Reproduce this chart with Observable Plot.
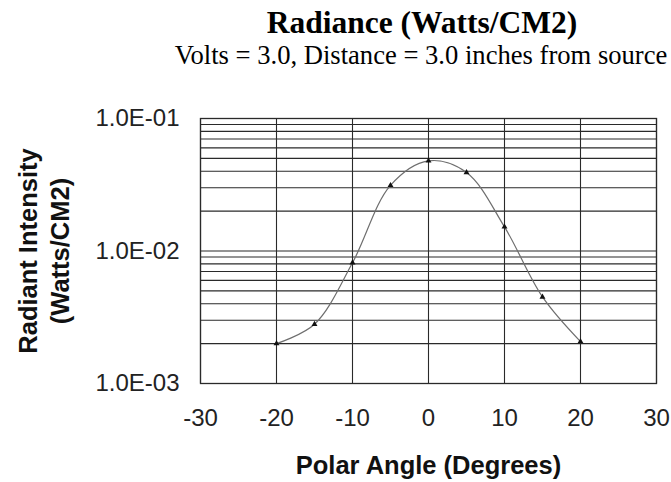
<!DOCTYPE html>
<html>
<head>
<meta charset="utf-8">
<script src="https://cdn.jsdelivr.net/npm/d3@7"></script>
<script src="https://cdn.jsdelivr.net/npm/@observablehq/plot@0.6"></script>
<style>
  body { margin: 0; background: white; }
  #wrap { width: 671px; background: white; }
  #header { position: relative; width: 671px; height: 70px; }
  #header .t { position: absolute; white-space: nowrap; transform: translateX(-50%); font-family: "Liberation Serif", "Times New Roman", serif; color: #000; }
  #title { left: 422px; top: 7px; font-size: 31.5px; line-height: 31px; font-weight: bold; }
  #subtitle { left: 421px; top: 42px; font-size: 26.6px; line-height: 26px; }
</style>
</head>
<body>
<div id="wrap">
  <div id="header">
    <div class="t" id="title">Radiance (Watts/CM2)</div>
    <div class="t" id="subtitle">Volts = 3.0, Distance = 3.0 inches from source</div>
  </div>
  <div id="chart"></div>
</div>
<script>
const angles = [-20, -15, -10, -5, 0, 5, 10, 15, 20];
const intensity = [0.002, 0.0028, 0.00815, 0.0313, 0.0479, 0.0391, 0.0152, 0.0045, 0.00207];
const xTicks = [-30, -20, -10, 0, 10, 20, 30];
const yTickValues = [0.001, 0.01, 0.1];
const yTickLabels = ["1.0E-03", "1.0E-02", "1.0E-01"];
const yGrid = [0.001, 0.002, 0.003, 0.004, 0.005, 0.006, 0.007, 0.008, 0.009,
               0.01, 0.02, 0.03, 0.04, 0.05, 0.06, 0.07, 0.08, 0.09, 0.1];
const yTitle = "Radiant Intensity\n(Watts/CM2)";
const xTitle = "Polar Angle (Degrees)";

const data = angles.map((a, i) => ({angle: a, value: intensity[i]}));

const chart = Plot.plot({
  width: 671,
  height: 412,
  marginTop: 48,
  marginBottom: 99,
  marginLeft: 200,
  marginRight: 15,
  style: {fontFamily: "'Liberation Sans', Arial, sans-serif", fontSize: "24px", color: "#222", background: "white"},
  x: {domain: [-30, 30], ticks: xTicks, tickFormat: d => String(d), tickSize: 0, tickPadding: 25, label: null},
  y: {type: "log", domain: [0.001, 0.1], ticks: yTickValues, tickFormat: d => yTickLabels[yTickValues.indexOf(d)] ?? "", tickSize: 0, tickPadding: 21, label: null},
  marks: [
    Plot.ruleY(yGrid, {stroke: "#2a2a2a", strokeWidth: 1.1, strokeOpacity: 1}),
    Plot.ruleX(xTicks, {stroke: "#2a2a2a", strokeWidth: 1.1, strokeOpacity: 1}),
    Plot.frame({stroke: "#2a2a2a", strokeWidth: 1.3}),
    Plot.line(data, {x: "angle", y: "value", curve: "catmull-rom", stroke: "#6e6e6e", strokeWidth: 1.2}),
    Plot.dot(data, {x: "angle", y: "value", symbol: "triangle", r: 2.2, fill: "#111", stroke: "none"}),
    Plot.text([yTitle], {frameAnchor: "left", textAnchor: "middle", lineAnchor: "middle", rotate: -90, dx: -158, fontWeight: "bold", fontSize: 25.5, lineHeight: 1.27, fill: "#111"}),
    Plot.text([xTitle], {frameAnchor: "bottom", dy: 90, fontWeight: "bold", fontSize: 25.5, fill: "#111"})
  ]
});
document.getElementById("chart").appendChild(chart);
</script>
</body>
</html>
